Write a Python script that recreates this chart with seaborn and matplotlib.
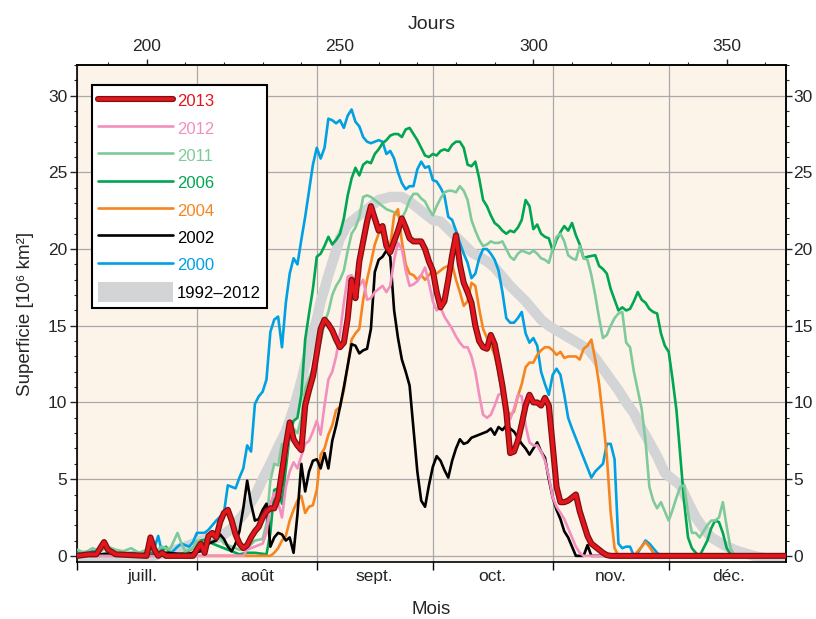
import matplotlib
matplotlib.use("Agg")
import matplotlib.pyplot as plt
import matplotlib.patheffects as pe
from matplotlib.patches import Patch
from matplotlib.ticker import MultipleLocator
import seaborn as sns

# ---------------- data (day of year, extent in 10^6 km2) ----------------
mean_1992_2012 = [(182,-0.2),(190,-0.2),(200,-0.1),(205,0.2),(210,0.6),(214,1.0),(219,1.2),(222,1.8),
    (225,2.7),(228,3.9),(230,5.0),(232,6.0),(234,7.1),(236,8.1),(238,9.6),(240,11.4),(242,13.5),
    (243,14.6),(244,15.4),(245,16.6),(246,17.4),(247,18.3),(248,19.1),(249,19.9),(250,20.7),(252,21.6),
    (254,22.0),(256,22.4),(258,22.8),(260,23.2),(263,23.4),(266,23.4),(268,23.1),(270,22.7),(272,22.3),
    (274,21.9),(276,21.8),(278,21.3),(280,20.8),(282,20.3),(284,19.8),(286,19.5),(288,19.2),(290,18.8),
    (292,18.2),(294,17.6),(296,17.1),(298,16.6),(300,16.0),(302,15.4),(304,15.0),(306,14.7),(308,14.4),
    (310,14.1),(312,13.8),(314,13.5),(316,12.9),(318,12.2),(320,11.5),(322,10.8),(324,10.0),(326,9.3),
    (328,8.3),(330,7.4),(332,6.5),(334,5.4),(336,5.0),(338,4.6),(340,3.5),(342,2.5),(344,1.8),(346,1.2),
    (348,0.9),(350,0.6),(353,0.3),(357,0.0),(361,-0.2),(365,-0.3)]

y2000 = [(182,0.2),(186,0.3),(190,0.5),(192,0.1),(196,0.2),(200,0.2),(202,0.5),(203,1.3),(204,0.2),
    (206,0.1),(208,0.6),(209,0.8),(211,0.6),(212,0.9),(213,1.5),(215,1.5),(216,1.7),(218,2.3),(220,2.8),
    (221,4.6),(222,4.5),(223,4.4),(224,5.1),(225,5.7),(226,7.2),(227,6.8),(228,9.9),(229,10.4),(230,10.7),
    (231,11.5),(232,14.6),(233,15.4),(234,15.6),(235,13.6),(236,16.5),(237,18.4),(238,19.4),(239,19.0),
    (240,20.6),(241,22.1),(242,23.8),(243,25.5),(244,26.6),(245,25.9),(246,26.6),(247,28.5),(248,28.4),
    (249,28.2),(250,28.4),(251,27.9),(252,28.7),(253,29.1),(254,28.3),(255,28.0),(256,27.3),(257,27.0),
    (258,26.9),(260,27.1),(261,27.0),(262,26.2),(263,26.4),(264,25.9),(265,25.0),(266,24.3),(267,23.9),
    (268,24.1),(269,24.1),(270,25.2),(271,25.7),(272,25.3),(273,25.4),(274,24.5),(275,24.4),(276,24.0),
    (277,23.5),(278,22.1),(279,21.9),(280,21.2),(281,20.4),(282,19.7),(283,19.1),(284,18.1),(285,18.4),
    (286,19.4),(287,20.0),(288,20.0),(289,19.7),(290,19.3),(291,18.6),(292,17.2),(293,15.5),(294,15.2),
    (295,15.2),(296,15.5),(297,15.9),(298,14.5),(299,13.9),(300,14.2),(301,13.7),(302,12.0),(303,11.2),
    (304,10.5),(305,11.8),(306,12.2),(307,11.8),(308,10.5),(309,9.0),(310,8.3),(315,5.1),(316,5.5),
    (318,6.0),(319,7.3),(320,7.3),(321,6.3),(322,0.8),(323,0.5),(324,0.6),(325,0.6),(326,0.0),(327,0.2),
    (328,0.6),(329,1.0),(330,0.8),(331,0.5),(332,0.2),(333,0.0),(365,0.0)]

y2002 = [(182,0.1),(190,0.1),(200,0.0),(205,0.2),(210,0.1),(214,0.3),(216,0.8),(218,1.0),(219,1.4),
    (220,1.1),(221,0.6),(222,0.3),(223,0.8),(224,1.6),(225,3.1),(226,4.9),(227,3.4),(228,2.3),(229,2.4),
    (230,3.0),(231,3.4),(232,0.6),(233,1.2),(234,1.5),(235,1.4),(236,1.0),(237,1.2),(238,0.2),(239,2.7),
    (240,6.0),(241,4.2),(242,5.5),(243,6.2),(244,6.3),(245,5.7),(246,6.7),(247,5.7),(248,7.5),(249,8.5),
    (250,9.7),(251,11.0),(252,12.4),(253,13.8),(254,13.7),(255,13.2),(256,13.4),(257,13.5),(258,14.8),
    (259,18.5),(260,19.3),(261,19.5),(262,19.9),(263,19.5),(264,16.0),(265,14.2),(266,12.8),(267,12.0),
    (268,11.1),(269,8.3),(270,5.5),(271,3.6),(272,3.2),(273,4.6),(274,5.8),(275,6.5),(276,6.2),(277,5.6),
    (278,5.1),(279,6.2),(280,7.0),(281,7.6),(282,7.3),(283,7.4),(284,7.7),(285,7.8),(286,7.9),(287,8.0),
    (288,8.1),(289,8.3),(290,7.9),(291,8.4),(292,8.2),(293,8.5),(294,8.3),(295,8.1),(296,7.7),(297,7.3),
    (298,7.0),(299,6.6),(300,7.0),(301,7.4),(302,6.8),(303,6.4),(304,5.0),(305,3.8),(306,3.0),(307,2.4),
    (308,1.6),(309,1.2),(310,0.6),(311,0.0),(313,0.0),(314,0.7),(315,0.0),(365,0.0)]

y2004 = [(182,0.0),(232,0.0),(233,0.2),(234,0.5),(235,1.0),(236,1.3),(237,2.3),(238,3.0),(239,3.6),
    (240,3.9),(241,2.8),(242,3.2),(243,3.3),(244,4.3),(245,6.6),(246,7.0),(247,7.9),(248,8.5),(249,9.5),
    (250,9.7),(251,10.8),(252,12.4),(253,14.1),(254,14.5),(255,14.8),(256,16.7),(257,18.0),(258,19.1),
    (259,20.3),(260,21.0),(261,21.2),(262,20.6),(263,20.2),(264,22.2),(265,22.6),(266,20.5),(267,19.0),
    (268,18.4),(269,18.3),(270,18.0),(271,18.3),(272,18.0),(273,18.3),(274,18.6),(275,18.4),(277,18.8),
    (279,19.0),(280,18.0),(281,17.2),(282,16.3),(283,16.6),(284,17.8),(285,17.6),(286,16.1),(287,14.8),
    (288,14.2),(289,13.7),(290,13.1),(291,12.0),(292,10.5),(293,9.5),(294,9.2),(295,9.4),(296,10.4),
    (297,11.2),(298,12.3),(299,12.6),(300,12.6),(301,13.1),(302,13.4),(303,13.6),(304,13.6),(305,13.4),
    (306,13.1),(307,13.3),(308,12.9),(309,13.0),(310,13.0),(311,13.0),(312,12.8),(313,13.5),(314,13.7),
    (315,14.1),(316,12.8),(317,11.2),(318,9.0),(319,6.5),(320,2.8),(321,0.5),(322,0.0),(326,0.0),
    (327,0.3),(328,0.6),(329,0.9),(330,0.6),(331,0.2),(332,0.0),(365,0.0)]

y2006 = [(182,0.1),(186,0.0),(190,0.2),(195,0.1),(200,0.2),(204,0.3),(205,0.6),(206,0.2),(208,0.1),
    (210,0.2),(212,0.5),(213,0.9),(214,1.0),(216,1.1),(217,0.8),(218,0.7),(220,0.5),(222,0.3),(224,0.1),
    (226,0.2),(228,0.2),(231,0.1),(232,1.5),(233,4.3),(234,4.4),(235,3.4),(236,5.7),(237,7.9),(238,8.8),
    (239,9.0),(240,10.5),(241,14.1),(242,15.8),(243,17.4),(244,19.5),(245,19.7),(246,20.2),(247,20.8),
    (248,20.3),(249,20.6),(250,21.0),(251,22.0),(252,23.5),(253,24.6),(254,25.3),(255,24.8),(256,25.5),
    (257,25.7),(258,25.6),(259,26.2),(260,26.5),(261,26.9),(262,27.1),(263,27.4),(264,27.5),(265,27.5),
    (266,27.3),(267,27.8),(268,27.9),(269,27.5),(270,27.1),(271,26.6),(272,26.1),(273,26.0),(274,26.2),
    (275,26.1),(276,26.4),(277,26.5),(278,26.4),(279,26.8),(280,27.0),(281,27.0),(282,26.6),(283,25.5),
    (284,25.4),(285,25.7),(286,24.6),(287,23.2),(288,22.8),(289,22.2),(290,21.7),(291,21.5),(292,21.2),
    (293,21.0),(294,21.2),(295,21.1),(296,21.4),(297,21.9),(298,23.2),(299,22.8),(300,21.3),(301,21.6),
    (302,21.0),(303,20.8),(304,20.7),(305,19.9),(306,20.6),(307,21.1),(308,21.5),(309,21.2),(310,21.7),
    (311,20.9),(312,20.3),(313,19.4),(314,19.5),(316,19.6),(317,18.9),(318,18.7),(319,18.4),(320,17.4),
    (321,16.7),(322,16.0),(323,16.2),(324,16.0),(325,16.1),(326,16.6),(327,17.2),(328,16.7),(329,16.5),
    (330,16.1),(331,15.9),(332,15.8),(333,14.5),(334,13.7),(335,13.3),(336,11.5),(337,9.5),(338,6.5),
    (339,3.5),(340,1.2),(341,0.5),(342,0.2),(343,0.0),(344,0.5),(345,1.0),(346,1.8),(347,2.3),(348,2.2),
    (349,1.5),(350,0.5),(351,0.1),(352,0.0),(365,0.0)]

y2011 = [(182,0.4),(184,0.2),(186,0.5),(188,0.3),(190,0.6),(192,0.4),(194,0.3),(196,0.5),(198,0.2),
    (200,0.4),(202,0.3),(204,0.6),(206,0.4),(208,1.5),(209,0.8),(210,0.3),(212,0.5),(213,1.0),(215,0.8),
    (217,1.0),(219,1.2),(220,0.8),(222,0.6),(224,0.4),(226,0.5),(228,1.0),(230,1.1),(231,2.1),(232,4.9),
    (233,6.0),(234,5.9),(235,7.3),(236,6.4),(237,7.9),(238,8.3),(239,8.0),(240,9.0),(241,10.9),(242,11.6),
    (243,12.2),(244,13.0),(245,14.0),(246,15.2),(247,15.9),(248,17.0),(249,17.6),(250,18.0),(251,18.6),
    (252,19.9),(253,21.0),(254,21.4),(255,22.1),(256,23.4),(257,23.5),(258,23.4),(259,23.2),(260,23.0),
    (261,22.8),(262,22.6),(263,22.5),(264,22.4),(265,22.2),(266,22.0),(267,22.5),(268,23.2),(269,23.6),
    (270,23.6),(271,23.3),(272,23.1),(273,22.6),(274,22.2),(275,22.8),(276,23.3),(277,23.7),(278,23.8),
    (279,23.8),(280,23.7),(281,24.1),(282,23.8),(283,23.2),(284,21.9),(285,21.2),(286,20.6),(287,20.2),
    (288,20.3),(289,20.5),(290,20.4),(291,20.4),(292,20.5),(293,20.0),(294,19.5),(295,19.3),(296,19.7),
    (297,19.9),(298,19.8),(299,19.7),(300,19.9),(301,19.7),(302,19.4),(303,19.3),(304,19.1),(305,20.0),
    (306,20.8),(307,21.0),(308,20.5),(309,19.6),(310,19.4),(311,19.3),(312,20.2),(313,19.4),(314,19.3),
    (315,18.3),(316,17.0),(317,15.5),(318,14.2),(319,14.4),(320,15.0),(321,15.5),(322,15.8),(323,15.9),
    (324,13.9),(325,13.6),(326,12.0),(327,10.8),(328,9.6),(329,7.5),(330,4.5),(331,3.6),(332,3.1),
    (333,3.5),(334,2.9),(335,2.3),(336,3.0),(337,3.8),(338,4.5),(339,4.6),(340,2.8),(341,1.5),(342,1.5),
    (343,1.2),(344,1.6),(345,2.0),(346,2.3),(347,2.3),(348,2.5),(349,3.5),(350,1.9),(351,0.5),(352,0.0),
    (365,0.0)]

y2012 = [(182,0.0),(225,0.0),(226,0.4),(228,0.6),(230,0.8),(231,1.5),(232,3.4),(233,4.1),(234,3.5),
    (235,2.5),(236,4.5),(237,5.5),(238,6.1),(239,5.7),(240,6.5),(241,7.3),(242,7.5),(243,8.1),(244,8.8),
    (245,7.9),(246,9.8),(247,11.5),(248,12.0),(249,13.0),(250,14.5),(251,16.5),(252,18.2),(253,18.3),
    (254,17.8),(255,17.6),(256,18.0),(257,16.7),(258,16.8),(259,17.2),(260,17.4),(261,17.6),(262,17.2),
    (263,17.6),(264,19.3),(265,20.4),(266,20.0),(267,18.6),(268,17.6),(269,17.7),(270,17.9),(271,18.3),
    (272,18.8),(273,17.8),(274,16.6),(275,16.0),(276,16.2),(277,15.6),(278,15.2),(279,14.8),(280,14.3),
    (281,13.9),(282,13.6),(283,13.6),(284,13.0),(285,12.0),(286,10.5),(287,9.2),(288,9.0),(289,9.2),
    (290,9.8),(291,10.5),(292,10.6),(293,9.5),(294,8.9),(295,9.6),(296,10.5),(297,10.4),(298,8.5),
    (299,7.4),(300,7.2),(301,7.2),(302,6.8),(303,6.2),(304,5.2),(305,3.8),(306,3.2),(307,2.8),(308,2.4),
    (309,1.8),(310,1.2),(311,0.6),(312,0.2),(313,0.0),(365,0.0)]

y2013 = [(182,0.0),(185,0.1),(187,0.1),(189,0.9),(190,0.4),(192,0.1),(200,0.0),(201,1.2),(202,0.4),
    (203,0.0),(204,0.2),(205,0.0),(212,0.0),(213,0.4),(214,0.8),(215,0.2),(216,1.3),(217,1.5),(218,1.2),
    (219,2.2),(220,2.8),(221,3.0),(222,2.3),(223,1.4),(224,0.8),(225,0.5),(226,0.7),(227,1.2),(228,1.6),
    (229,1.9),(230,2.5),(231,2.9),(232,3.1),(233,3.1),(234,3.8),(235,5.5),(236,7.2),(237,8.7),(238,7.6),
    (239,7.2),(240,6.9),(241,9.8),(242,10.8),(243,11.7),(244,13.2),(245,14.8),(246,15.4),(247,15.1),
    (248,14.7),(249,14.1),(250,13.6),(251,13.9),(252,15.5),(253,18.0),(254,16.8),(255,19.2),(256,20.5),
    (257,21.8),(258,22.8),(259,22.0),(260,21.2),(261,21.5),(262,20.2),(263,19.8),(264,20.5),(265,21.2),
    (266,22.0),(267,21.4),(268,20.7),(269,20.5),(270,20.5),(271,20.5),(272,20.0),(273,19.2),(274,18.6),
    (275,17.2),(276,16.2),(277,16.6),(278,18.0),(279,19.6),(280,20.9),(281,19.0),(282,17.8),(283,17.2),
    (284,16.5),(285,15.0),(286,14.0),(287,13.6),(288,13.5),(289,14.4),(290,13.8),(291,12.5),(292,11.1),
    (293,9.4),(294,6.7),(295,6.8),(296,7.5),(297,8.6),(298,9.8),(299,10.5),(300,10.0),(301,10.0),
    (302,9.8),(303,10.3),(304,9.8),(305,7.2),(306,4.5),(307,3.5),(308,3.5),(309,3.6),(310,3.8),(311,4.0),
    (312,2.9),(313,2.1),(314,1.3),(315,0.8),(316,0.6),(317,0.4),(318,0.2),(319,0.05),(320,0.0),(365,0.0)]

month_edges = [182, 213, 244, 274, 305, 335, 366]
month_names = ["juill.", "août", "sept.", "oct.", "nov.", "déc."]
month_label_pos = [199, 228.5, 259, 289.5, 320, 350.5]
day_ticks = [200, 250, 300, 350]
y_ticks = [0, 5, 10, 15, 20, 25, 30]

# ---------------- style ----------------
sns.set_style("ticks")
plt.rcParams["font.family"] = ["Liberation Sans", "DejaVu Sans"]

C2013, C2013E = "#e3161d", "#7d0f12"
C2012 = "#f28fbe"
C2011 = "#7fca9b"
C2006 = "#00a651"
C2004 = "#f7851f"
C2002 = "#000000"
C2000 = "#00a0e2"
CMEAN = "#d3d4d6"

fig = plt.figure(figsize=(8.16, 6.19), dpi=100)
ax = fig.add_axes([77 / 816, 1 - 562 / 619, 708.5 / 816, 497 / 619])
ax.set_facecolor("#fdf4e9")

def draw(data, color, lw, z, **kw):
    xs = [d for d, v in data]
    ys = [v for d, v in data]
    sns.lineplot(x=xs, y=ys, ax=ax, color=color, linewidth=lw, zorder=z,
                 estimator=None, sort=False, legend=False, **kw)
    return ax.lines[-1]

draw(mean_1992_2012, CMEAN, 7.4, 2, solid_capstyle="butt")
l2000 = draw(y2000, C2000, 1.9, 3)
l2006 = draw(y2006, C2006, 1.9, 3.1)
l2011 = draw(y2011, C2011, 1.9, 3.2)
l2004 = draw(y2004, C2004, 1.9, 3.3)
l2002 = draw(y2002, C2002, 1.9, 3.4)
l2012 = draw(y2012, C2012, 1.9, 3.5)
l2013 = draw(y2013, C2013, 2.6, 4,
             path_effects=[pe.Stroke(linewidth=4.4, foreground=C2013E), pe.Normal()])

ax.set_xlim(182, 365.2)
ax.set_ylim(-0.4, 32)
ax.set_axisbelow(True)

# bottom axis: month boundaries + centred month labels
ax.set_xticks(month_edges[:-1])
ax.set_xticklabels([])
ax.set_xticks(month_label_pos, minor=True)
ax.set_xticklabels(month_names, minor=True, fontsize=12.5)
ax.tick_params(axis="x", which="major", length=6, width=1.0, direction="out", color="black")
ax.tick_params(axis="x", which="minor", length=0, pad=5)

# left axis
ax.set_yticks(y_ticks)
ax.yaxis.set_minor_locator(MultipleLocator(1))
ax.tick_params(axis="y", which="major", length=5, width=1.0, labelsize=12.5, pad=2)
ax.tick_params(axis="y", which="minor", length=2.5, width=0.8)

ax.grid(True, which="major", color="#a9a9a9", linewidth=0.9)
for s in ax.spines.values():
    s.set_color("black")
    s.set_linewidth(1.2)

# top axis (days)
top = ax.secondary_xaxis("top")
top.set_xticks(day_ticks)
top.xaxis.set_minor_locator(MultipleLocator(10))
top.tick_params(axis="x", which="major", length=4, width=1.0, labelsize=12.5, pad=4)
top.tick_params(axis="x", which="minor", length=2.5, width=0.8)
top.set_xlabel("Jours", fontsize=14, labelpad=7)
top.spines["top"].set_linewidth(1.2)

# right axis
right = ax.secondary_yaxis("right")
right.set_yticks(y_ticks)
right.yaxis.set_minor_locator(MultipleLocator(1))
right.tick_params(axis="y", which="major", length=4.5, width=1.0, labelsize=12.5, pad=1)
right.tick_params(axis="y", which="minor", length=2.5, width=0.8)
right.spines["right"].set_linewidth(1.2)

ax.set_xlabel("Mois", fontsize=13.5, labelpad=12)
ax.set_ylabel("Superficie [10⁶ km²]", fontsize=13.5, labelpad=10)

# legend
handles = [l2013, l2012, l2011, l2006, l2004, l2002, l2000,
           Patch(facecolor=CMEAN, edgecolor="none")]
labels = ["2013", "2012", "2011", "2006", "2004", "2002", "2000", "1992–2012"]
colors = [C2013, C2012, C2011, C2006, C2004, C2002, C2000, "black"]
leg = ax.legend(handles, labels, loc="upper left", bbox_to_anchor=(0.021, 0.960),
                frameon=True, fancybox=False, framealpha=1, edgecolor="black",
                fontsize=12, borderpad=0.35, handlelength=4.5, handletextpad=0.25,
                labelspacing=0.42, handleheight=1.5, borderaxespad=0)
leg.get_frame().set_linewidth(1.5)
leg.set_zorder(10)
for t, c in zip(leg.get_texts(), colors):
    t.set_color(c)

fig.savefig("out.png", dpi=100)
